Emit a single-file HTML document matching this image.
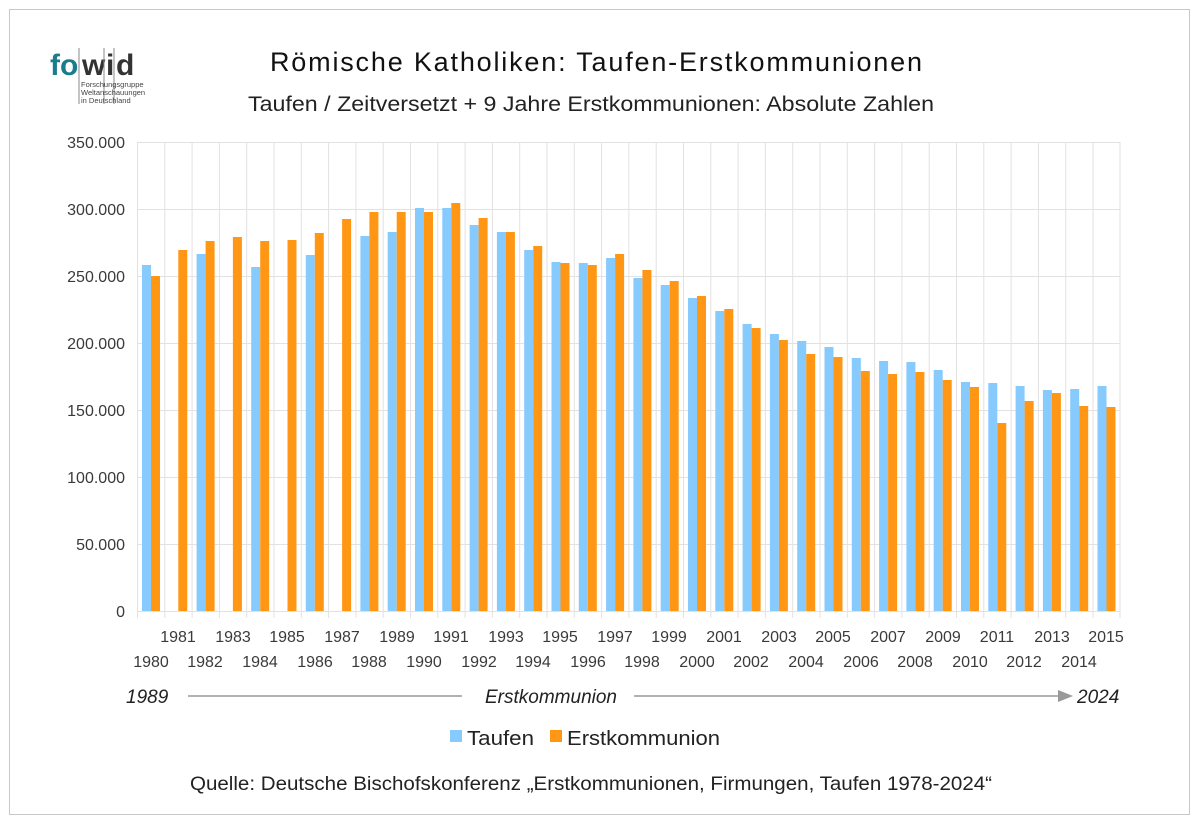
<!DOCTYPE html>
<html><head><meta charset="utf-8"><style>
html,body{margin:0;padding:0;background:#fff;}
svg{display:block;font-family:"Liberation Sans",sans-serif;}
</style></head><body>
<svg width="1200" height="824" viewBox="0 0 1200 824" xmlns="http://www.w3.org/2000/svg">
<rect x="0" y="0" width="1200" height="824" fill="#fff"/>
<rect x="9.5" y="9.5" width="1180" height="805" fill="none" stroke="#c8c8c8" stroke-width="1"/>
<!-- logo -->
<text x="50" y="75" font-size="30" font-weight="bold" fill="#1a7d8e">fo</text>
<line x1="79" y1="48" x2="79" y2="104" stroke="#888" stroke-width="1"/>
<text x="82" y="75" font-size="30" fill="#333" font-weight="bold">w</text>
<line x1="104" y1="48" x2="104" y2="104" stroke="#888" stroke-width="1"/>
<text x="106" y="75" font-size="30" fill="#333" font-weight="bold">i</text>
<line x1="114" y1="48" x2="114" y2="104" stroke="#888" stroke-width="1"/>
<text x="116" y="75" font-size="30" fill="#333" font-weight="bold">d</text>
<text x="81" y="87" font-size="7.5" fill="#444">Forschungsgruppe</text>
<text x="81" y="95" font-size="7.5" fill="#444">Weltanschauungen</text>
<text x="81" y="103" font-size="7.5" fill="#444">in Deutschland</text>
<!-- titles -->
<text x="270" y="71" font-size="27" fill="#111" textLength="652" lengthAdjust="spacing">Römische Katholiken: Taufen-Erstkommunionen</text>
<text x="248" y="111" font-size="21" fill="#222" textLength="686" lengthAdjust="spacingAndGlyphs">Taufen / Zeitversetzt + 9 Jahre Erstkommunionen: Absolute Zahlen</text>
<!-- grid -->
<g stroke="#e2e2e2" stroke-width="1">
<line x1="137" y1="142.5" x2="1120" y2="142.5"/>
<line x1="137" y1="209.5" x2="1120" y2="209.5"/>
<line x1="137" y1="276.5" x2="1120" y2="276.5"/>
<line x1="137" y1="343.5" x2="1120" y2="343.5"/>
<line x1="137" y1="410.5" x2="1120" y2="410.5"/>
<line x1="137" y1="477.5" x2="1120" y2="477.5"/>
<line x1="137" y1="544.5" x2="1120" y2="544.5"/>
<line x1="137" y1="611.5" x2="1120" y2="611.5"/>
</g>
<g stroke="#e2e2e2" stroke-width="1">
<line x1="137.5" y1="142" x2="137.5" y2="618"/><line x1="164.8" y1="142" x2="164.8" y2="618"/><line x1="192.1" y1="142" x2="192.1" y2="618"/><line x1="219.4" y1="142" x2="219.4" y2="618"/><line x1="246.7" y1="142" x2="246.7" y2="618"/><line x1="274" y1="142" x2="274" y2="618"/><line x1="301.3" y1="142" x2="301.3" y2="618"/><line x1="328.6" y1="142" x2="328.6" y2="618"/><line x1="355.9" y1="142" x2="355.9" y2="618"/><line x1="383.2" y1="142" x2="383.2" y2="618"/><line x1="410.5" y1="142" x2="410.5" y2="618"/><line x1="437.8" y1="142" x2="437.8" y2="618"/><line x1="465.1" y1="142" x2="465.1" y2="618"/><line x1="492.4" y1="142" x2="492.4" y2="618"/><line x1="519.7" y1="142" x2="519.7" y2="618"/><line x1="547" y1="142" x2="547" y2="618"/><line x1="574.3" y1="142" x2="574.3" y2="618"/><line x1="601.6" y1="142" x2="601.6" y2="618"/><line x1="628.9" y1="142" x2="628.9" y2="618"/><line x1="656.2" y1="142" x2="656.2" y2="618"/><line x1="683.5" y1="142" x2="683.5" y2="618"/><line x1="710.8" y1="142" x2="710.8" y2="618"/><line x1="738.1" y1="142" x2="738.1" y2="618"/><line x1="765.4" y1="142" x2="765.4" y2="618"/><line x1="792.7" y1="142" x2="792.7" y2="618"/><line x1="820" y1="142" x2="820" y2="618"/><line x1="847.3" y1="142" x2="847.3" y2="618"/><line x1="874.6" y1="142" x2="874.6" y2="618"/><line x1="901.9" y1="142" x2="901.9" y2="618"/><line x1="929.2" y1="142" x2="929.2" y2="618"/><line x1="956.5" y1="142" x2="956.5" y2="618"/><line x1="983.8" y1="142" x2="983.8" y2="618"/><line x1="1011.1" y1="142" x2="1011.1" y2="618"/><line x1="1038.4" y1="142" x2="1038.4" y2="618"/><line x1="1065.7" y1="142" x2="1065.7" y2="618"/><line x1="1093" y1="142" x2="1093" y2="618"/><line x1="1120" y1="142" x2="1120" y2="618"/>
</g>
<!-- y labels -->
<g font-size="16" fill="#3a3a3a" text-anchor="end">
<text x="125" y="148">350.000</text><text x="125" y="215">300.000</text><text x="125" y="282">250.000</text><text x="125" y="349">200.000</text><text x="125" y="416">150.000</text><text x="125" y="483">100.000</text><text x="125" y="550">50.000</text><text x="125" y="617">0</text>
</g>
<!-- bars -->
<g fill="#87cafe">
<rect x="142" y="265" width="9" height="346"/>
<rect x="196.6" y="254" width="9" height="357"/>
<rect x="251.2" y="267" width="9" height="344"/>
<rect x="305.8" y="255" width="9" height="356"/>
<rect x="360.4" y="236" width="9" height="375"/>
<rect x="387.7" y="232" width="9" height="379"/>
<rect x="415" y="208" width="9" height="403"/>
<rect x="442.3" y="208" width="9" height="403"/>
<rect x="469.6" y="225" width="9" height="386"/>
<rect x="496.9" y="232" width="9" height="379"/>
<rect x="524.2" y="250" width="9" height="361"/>
<rect x="551.5" y="262" width="9" height="349"/>
<rect x="578.8" y="263" width="9" height="348"/>
<rect x="606.1" y="258" width="9" height="353"/>
<rect x="633.4" y="278" width="9" height="333"/>
<rect x="660.7" y="285" width="9" height="326"/>
<rect x="688" y="298" width="9" height="313"/>
<rect x="715.3" y="311" width="9" height="300"/>
<rect x="742.6" y="324" width="9" height="287"/>
<rect x="769.9" y="334" width="9" height="277"/>
<rect x="797.2" y="341" width="9" height="270"/>
<rect x="824.5" y="347" width="9" height="264"/>
<rect x="851.8" y="358" width="9" height="253"/>
<rect x="879.1" y="361" width="9" height="250"/>
<rect x="906.4" y="362" width="9" height="249"/>
<rect x="933.7" y="370" width="9" height="241"/>
<rect x="961" y="382" width="9" height="229"/>
<rect x="988.3" y="383" width="9" height="228"/>
<rect x="1015.6" y="386" width="9" height="225"/>
<rect x="1042.9" y="390" width="9" height="221"/>
<rect x="1070.2" y="389" width="9" height="222"/>
<rect x="1097.5" y="386" width="9" height="225"/>
</g>
<g fill="#ff9714">
<rect x="151" y="276" width="9" height="335"/>
<rect x="178.3" y="250" width="9" height="361"/>
<rect x="205.6" y="241" width="9" height="370"/>
<rect x="232.9" y="237" width="9" height="374"/>
<rect x="260.2" y="241" width="9" height="370"/>
<rect x="287.5" y="240" width="9" height="371"/>
<rect x="314.8" y="233" width="9" height="378"/>
<rect x="342.1" y="219" width="9" height="392"/>
<rect x="369.4" y="212" width="9" height="399"/>
<rect x="396.7" y="212" width="9" height="399"/>
<rect x="424" y="212" width="9" height="399"/>
<rect x="451.3" y="203" width="9" height="408"/>
<rect x="478.6" y="218" width="9" height="393"/>
<rect x="505.9" y="232" width="9" height="379"/>
<rect x="533.2" y="246" width="9" height="365"/>
<rect x="560.5" y="263" width="9" height="348"/>
<rect x="587.8" y="265" width="9" height="346"/>
<rect x="615.1" y="254" width="9" height="357"/>
<rect x="642.4" y="270" width="9" height="341"/>
<rect x="669.7" y="281" width="9" height="330"/>
<rect x="697" y="296" width="9" height="315"/>
<rect x="724.3" y="309" width="9" height="302"/>
<rect x="751.6" y="328" width="9" height="283"/>
<rect x="778.9" y="340" width="9" height="271"/>
<rect x="806.2" y="354" width="9" height="257"/>
<rect x="833.5" y="357" width="9" height="254"/>
<rect x="860.8" y="371" width="9" height="240"/>
<rect x="888.1" y="374" width="9" height="237"/>
<rect x="915.4" y="372" width="9" height="239"/>
<rect x="942.7" y="380" width="9" height="231"/>
<rect x="970" y="387" width="9" height="224"/>
<rect x="997.3" y="423" width="9" height="188"/>
<rect x="1024.6" y="401" width="9" height="210"/>
<rect x="1051.9" y="393" width="9" height="218"/>
<rect x="1079.2" y="406" width="9" height="205"/>
<rect x="1106.5" y="407" width="9" height="204"/>
</g>
<!-- x labels -->
<g font-size="16" fill="#3a3a3a" text-anchor="middle">
<text x="178" y="642">1981</text><text x="233" y="642">1983</text><text x="287" y="642">1985</text><text x="342" y="642">1987</text><text x="397" y="642">1989</text><text x="451" y="642">1991</text><text x="506" y="642">1993</text><text x="560" y="642">1995</text><text x="615" y="642">1997</text><text x="669" y="642">1999</text><text x="724" y="642">2001</text><text x="779" y="642">2003</text><text x="833" y="642">2005</text><text x="888" y="642">2007</text><text x="943" y="642">2009</text><text x="997" y="642">2011</text><text x="1052" y="642">2013</text><text x="1106" y="642">2015</text>
<text x="151" y="667">1980</text><text x="205" y="667">1982</text><text x="260" y="667">1984</text><text x="315" y="667">1986</text><text x="369" y="667">1988</text><text x="424" y="667">1990</text><text x="479" y="667">1992</text><text x="533" y="667">1994</text><text x="588" y="667">1996</text><text x="642" y="667">1998</text><text x="697" y="667">2000</text><text x="751" y="667">2002</text><text x="806" y="667">2004</text><text x="861" y="667">2006</text><text x="915" y="667">2008</text><text x="970" y="667">2010</text><text x="1024" y="667">2012</text><text x="1079" y="667">2014</text>
</g>
<!-- arrow row -->
<g font-size="19" font-style="italic" fill="#222">
<text x="126" y="703">1989</text>
<text x="551" y="703" text-anchor="middle">Erstkommunion</text>
<text x="1077" y="703">2024</text>
</g>
<line x1="188" y1="696" x2="462" y2="696" stroke="#999" stroke-width="1.5"/>
<line x1="634" y1="696" x2="1062" y2="696" stroke="#999" stroke-width="1.5"/>
<polygon points="1058,690 1073,696 1058,702" fill="#999"/>
<!-- legend -->
<rect x="450" y="730" width="12" height="12" fill="#87cafe"/>
<text x="467" y="745" font-size="20" fill="#222" textLength="67" lengthAdjust="spacingAndGlyphs">Taufen</text>
<rect x="550" y="730" width="12" height="12" fill="#ff9714"/>
<text x="567" y="745" font-size="20" fill="#222" textLength="153" lengthAdjust="spacingAndGlyphs">Erstkommunion</text>
<!-- source -->
<text x="190" y="790" font-size="19" fill="#222" textLength="802" lengthAdjust="spacingAndGlyphs">Quelle: Deutsche Bischofskonferenz „Erstkommunionen, Firmungen, Taufen 1978-2024“</text>
</svg>
</body></html>
